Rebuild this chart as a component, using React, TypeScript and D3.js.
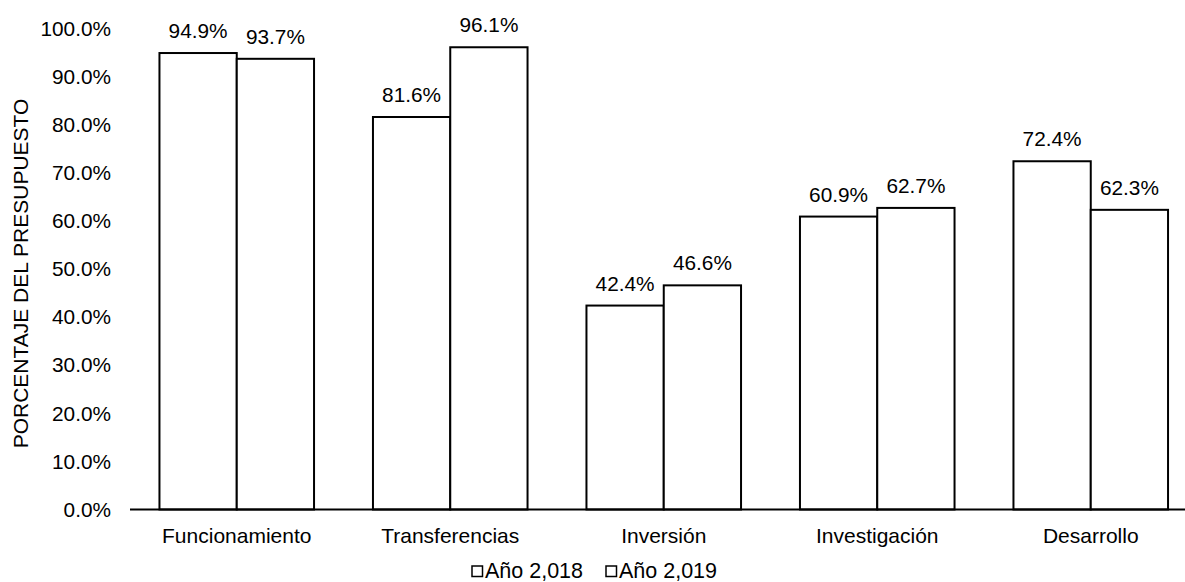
import React from "react";
import * as d3 from "d3";

const categories = ["Funcionamiento", "Transferencias", "Inversión", "Investigación", "Desarrollo"];
const seriesNames = ["Año 2,018", "Año 2,019"];
const values2018 = [94.9, 81.6, 42.4, 60.9, 72.4];
const values2019 = [93.7, 96.1, 46.6, 62.7, 62.3];
const yTicks = [0, 10, 20, 30, 40, 50, 60, 70, 80, 90, 100];
const yTitle = "PORCENTAJE DEL PRESUPUESTO";

const W = 1185;
const H = 582;
const FONT = "'Liberation Sans', Arial, sans-serif";

export default function App() {
  const series = [values2018, values2019];

  const y = d3.scaleLinear().domain([0, 100]).range([509.5, 28.5]);
  const x0 = d3
    .scaleBand<string>()
    .domain(categories)
    .range([130, 1197.5])
    .paddingInner(0.276)
    .paddingOuter(0.138);
  const x1 = d3
    .scaleBand<string>()
    .domain(seriesNames)
    .range([0, x0.bandwidth()])
    .padding(0);

  const fmt = (v: number) => v.toFixed(1) + "%";

  // legend item positions
  const legendX = [471, 605];

  return (
    <svg
      width={W}
      height={H}
      style={{ position: "absolute", left: 0, top: 0, background: "#fff" }}
      fontFamily={FONT}
    >
      <rect x={0} y={0} width={W} height={H} fill="#fff" />

      {/* y tick labels */}
      {yTicks.map((t) => (
        <text
          key={t}
          x={111}
          y={y(t)}
          dy="0.35em"
          textAnchor="end"
          fontSize={20.8}
          fill="#000"
        >
          {fmt(t)}
        </text>
      ))}

      {/* y axis title */}
      <text
        transform={`translate(27.5, 273.5) rotate(-90)`}
        textAnchor="middle"
        fontSize={21}
        fill="#000"
      >
        {yTitle}
      </text>

      {/* bars */}
      {categories.map((c, i) => (
        <g key={c} transform={`translate(${x0(c)},0)`}>
          {seriesNames.map((s, j) => {
            const v = series[j][i];
            const bx = x1(s) as number;
            const bw = x1.bandwidth();
            return (
              <g key={s}>
                <rect
                  x={bx}
                  y={y(v)}
                  width={bw}
                  height={y(0) - y(v)}
                  fill="#fff"
                  stroke="#000"
                  strokeWidth={2}
                />
                <text
                  x={bx + bw / 2}
                  y={y(v) - 15}
                  textAnchor="middle"
                  fontSize={20.8}
                  fill="#000"
                >
                  {fmt(v)}
                </text>
              </g>
            );
          })}
        </g>
      ))}

      {/* x axis line */}
      <line x1={130} x2={W} y1={y(0)} y2={y(0)} stroke="#000" strokeWidth={2} />

      {/* category labels */}
      {categories.map((c) => (
        <text
          key={c}
          x={(x0(c) as number) + x0.bandwidth() / 2}
          y={543}
          textAnchor="middle"
          fontSize={21}
          fill="#000"
        >
          {c}
        </text>
      ))}

      {/* legend */}
      {seriesNames.map((s, j) => (
        <g key={s} transform={`translate(${legendX[j]},0)`}>
          <rect x={1} y={566} width={10.5} height={10.5} fill="#fff" stroke="#000" strokeWidth={1.5} />
          <text x={14} y={578} fontSize={21.5} fill="#000">
            {s}
          </text>
        </g>
      ))}
    </svg>
  );
}
